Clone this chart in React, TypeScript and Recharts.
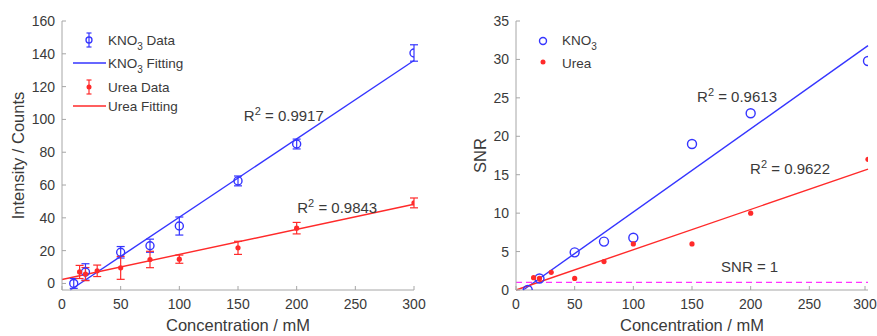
import React from 'react';
import {
  ComposedChart, XAxis, YAxis, Scatter, ErrorBar, ReferenceLine, ReferenceDot, Label, Legend,
} from 'recharts';

// ---- Data ----
const concKno3 = [10, 20, 50, 75, 100, 150, 200, 300];
const intensityKno3 = [0, 7, 19, 23, 35, 62.5, 85, 140.5];
const errKno3 = [3, 5, 3.5, 4, 5.5, 3, 3, 5];

const concUrea = [15, 20, 30, 50, 75, 100, 150, 200, 300];
const intensityUrea = [7, 5.7, 7.7, 9.5, 14.6, 14.8, 21.7, 33.7, 49.1];
const errUrea = [4, 4, 3.5, 7, 5, 2.5, 4, 3.5, 3];

const snrKno3 = [0, 1.5, 4.9, 6.3, 6.8, 19, 23, 29.8];
const snrConcUrea = [15, 20, 30, 50, 75, 100, 150, 200, 300];
const snrUrea = [1.6, 1.5, 2.3, 1.5, 3.7, 6, 6, 10, 17];

// linear fits (slope, intercept) and their x-ranges
const fitIntKno3 = { slope: 0.4777, intercept: -7.39, x0: 7.1, x1: 300 };
const fitIntUrea = { slope: 0.153, intercept: 2.4, x0: 0, x1: 300 };
const fitSnrKno3 = { slope: 0.1082, intercept: -0.67, x0: 6.2, x1: 300 };
const fitSnrUrea = { slope: 0.0524, intercept: 0, x0: 0, x1: 300 };

const xTicks = [0, 50, 100, 150, 200, 250, 300];
const yTicksInt = [0, 20, 40, 60, 80, 100, 120, 140, 160];
const yTicksSnr = [0, 5, 10, 15, 20, 25, 30, 35];

const r2Labels = { intKno3: '0.9917', intUrea: '0.9843', snrKno3: '0.9613', snrUrea: '0.9622' };

const intKno3Data = concKno3.map((x, i) => ({ x, y: intensityKno3[i], err: errKno3[i] }));
const intUreaData = concUrea.map((x, i) => ({ x, y: intensityUrea[i], err: errUrea[i] }));
const snrKno3Data = concKno3.map((x, i) => ({ x, y: snrKno3[i] }));
const snrUreaData = snrConcUrea.map((x, i) => ({ x, y: snrUrea[i] }));

const seg = (f: { slope: number; intercept: number; x0: number; x1: number }) => [
  { x: f.x0, y: f.slope * f.x0 + f.intercept },
  { x: f.x1, y: f.slope * f.x1 + f.intercept },
];

// ---- Styles ----
const FONT = 'Liberation Sans, Arial, sans-serif';
const BLUE = '#3535ff';
const RED = '#ff2a2a';
const MAGENTA = '#ff33ff';
const AXIS = '#a6a6a6';
const TEXT = '#3a3a3a';
const TICK_MARGIN = 9;

const XTick = (props: any) => {
  const { x, y, payload } = props;
  const axisY = y - TICK_MARGIN;
  return (
    <g>
      <line x1={x} x2={x} y1={axisY} y2={axisY - 4} stroke={AXIS} strokeWidth={1} />
      <text x={x} y={y} dy="0.71em" textAnchor="middle" fill={TEXT} fontSize={14} fontFamily={FONT}>
        {payload.value}
      </text>
    </g>
  );
};

const YTick = (props: any) => {
  const { x, y, payload } = props;
  const axisX = x + 7;
  return (
    <g>
      <line x1={axisX} x2={axisX + 4} y1={y} y2={y} stroke={AXIS} strokeWidth={1} />
      <text x={x} y={y} dy="0.36em" textAnchor="end" fill={TEXT} fontSize={14} fontFamily={FONT}>
        {payload.value}
      </text>
    </g>
  );
};

const R2Text = (value: string) => (props: any) => {
  const { viewBox } = props;
  const x = viewBox.x;
  const y = viewBox.y;
  return (
    <text x={x} y={y} dy="0.36em" fill={TEXT} fontSize={15} fontFamily={FONT}>
      <tspan>R</tspan>
      <tspan dy={-6} fontSize={11}>2</tspan>
      <tspan dy={6}>{' = ' + value}</tspan>
    </text>
  );
};

const PlainText = (value: string) => (props: any) => {
  const { viewBox } = props;
  return (
    <text x={viewBox.x} y={viewBox.y} dy="0.36em" fill={TEXT} fontSize={15} fontFamily={FONT}>
      {value}
    </text>
  );
};

const openCircle = (r: number) => (props: any) => (
  <circle cx={props.cx} cy={props.cy} r={r} fill="none" stroke={BLUE} strokeWidth={1.4} />
);
const dot = (r: number) => (props: any) => (
  <circle cx={props.cx} cy={props.cy} r={r} fill={RED} stroke="none" />
);

const XLabel = (props: any) => {
  const { viewBox } = props;
  return (
    <text x={viewBox.x + viewBox.width / 2} y={viewBox.y + 35} dy="0.36em" textAnchor="middle" fill={TEXT} fontSize={16.5} fontFamily={FONT}>
      Concentration / mM
    </text>
  );
};

const YLabel = (text: string, dx: number) => (props: any) => {
  const { viewBox } = props;
  const cx = viewBox.x + dx;
  const cy = viewBox.y + viewBox.height / 2;
  return (
    <text x={cx} y={cy} dy="0.36em" textAnchor="middle" fill={TEXT} fontSize={16.5} fontFamily={FONT} transform={`rotate(-90, ${cx}, ${cy})`}>
      {text}
    </text>
  );
};

const Sub3 = ({ rest }: { rest: string }) => (
  <>
    <tspan>KNO</tspan>
    <tspan dy={5} fontSize={10}>3</tspan>
    <tspan dy={-5}>{rest}</tspan>
  </>
);

const LeftLegend = () => (
  <svg width={140} height={120} style={{ overflow: 'visible' }}>
    <g fontFamily={FONT} fontSize={13.5} fill={TEXT}>
      {/* KNO3 Data */}
      <line x1={89} x2={89} y1={33} y2={47} stroke={BLUE} strokeWidth={1.2} />
      <line x1={86.5} x2={91.5} y1={33} y2={33} stroke={BLUE} strokeWidth={1.2} />
      <line x1={86.5} x2={91.5} y1={47} y2={47} stroke={BLUE} strokeWidth={1.2} />
      <circle cx={89} cy={40} r={3} fill="none" stroke={BLUE} strokeWidth={1.3} />
      <text x={108} y={40} dy="0.36em"><Sub3 rest=" Data" /></text>
      {/* KNO3 Fitting */}
      <line x1={73} x2={106} y1={63} y2={63} stroke={BLUE} strokeWidth={1.4} />
      <text x={108} y={63} dy="0.36em"><Sub3 rest=" Fitting" /></text>
      {/* Urea Data */}
      <line x1={89} x2={89} y1={80} y2={94} stroke={RED} strokeWidth={1.2} />
      <line x1={86.5} x2={91.5} y1={80} y2={80} stroke={RED} strokeWidth={1.2} />
      <line x1={86.5} x2={91.5} y1={94} y2={94} stroke={RED} strokeWidth={1.2} />
      <circle cx={89} cy={87} r={2.5} fill={RED} />
      <text x={108} y={87} dy="0.36em">Urea Data</text>
      {/* Urea Fitting */}
      <line x1={73} x2={106} y1={106} y2={106} stroke={RED} strokeWidth={1.4} />
      <text x={108} y={106} dy="0.36em">Urea Fitting</text>
    </g>
  </svg>
);

const RightLegend = () => (
  <svg width={170} height={80} style={{ overflow: 'visible' }}>
    <g fontFamily={FONT} fontSize={13.5} fill={TEXT}>
      <circle cx={106} cy={41} r={3.5} fill="none" stroke={BLUE} strokeWidth={1.4} />
      <text x={125} y={40} dy="0.36em"><Sub3 rest="" /></text>
      <circle cx={106} cy={62} r={2.5} fill={RED} />
      <text x={125} y={63} dy="0.36em">Urea</text>
    </g>
  </svg>
);

const legendWrap = { position: 'absolute' as const, left: 0, top: 0, width: 200, height: 120 };

export default function App() {
  return (
    <div style={{ position: 'absolute', left: 0, top: 0, width: 877, height: 336, background: '#fff', overflow: 'hidden' }}>
      <div style={{ position: 'absolute', left: 0, top: 0 }}>
        <ComposedChart width={440} height={336} margin={{ top: 21, right: 26, bottom: 0, left: 0 }}>
          <XAxis
            type="number" dataKey="x" domain={[0, 300]} ticks={xTicks} allowDataOverflow
            height={46} stroke={AXIS} tickLine={false} tickSize={0} tickMargin={TICK_MARGIN} tick={<XTick />}
          >
            <Label content={<XLabel />} />
          </XAxis>
          <YAxis
            type="number" dataKey="y" domain={[-4, 160]} ticks={yTicksInt} allowDataOverflow
            width={62} stroke={AXIS} tickLine={false} tickSize={0} tickMargin={7} tick={<YTick />}
          >
            <Label content={YLabel('Intensity / Counts', 18)} />
          </YAxis>
          <Legend layout="vertical" align="center" verticalAlign="middle" wrapperStyle={legendWrap} content={<LeftLegend />} />
          <ReferenceLine segment={seg(fitIntKno3)} stroke={BLUE} strokeWidth={1.4} ifOverflow="visible" />
          <ReferenceLine segment={seg(fitIntUrea)} stroke={RED} strokeWidth={1.4} ifOverflow="visible" />
          <Scatter data={intKno3Data} dataKey="y" shape={openCircle(4)} isAnimationActive={false} legendType="none">
            <ErrorBar dataKey="err" direction="y" width={4} stroke={BLUE} strokeWidth={1.2} />
          </Scatter>
          <Scatter data={intUreaData} dataKey="y" shape={dot(2.6)} isAnimationActive={false} legendType="none">
            <ErrorBar dataKey="err" direction="y" width={4} stroke={RED} strokeWidth={1.2} />
          </Scatter>
          <ReferenceDot x={155} y={102.6} r={0} fill="none" stroke="none" ifOverflow="visible" label={R2Text(r2Labels.intKno3)} />
          <ReferenceDot x={200.5} y={46.5} r={0} fill="none" stroke="none" ifOverflow="visible" label={R2Text(r2Labels.intUrea)} />
        </ComposedChart>
      </div>
      <div style={{ position: 'absolute', left: 437, top: 0 }}>
        <ComposedChart width={440} height={336} margin={{ top: 21, right: 9, bottom: 0, left: 0 }}>
          <XAxis
            type="number" dataKey="x" domain={[0, 300]} ticks={xTicks} allowDataOverflow
            height={46} stroke={AXIS} tickLine={false} tickSize={0} tickMargin={TICK_MARGIN} tick={<XTick />}
          >
            <Label content={<XLabel />} />
          </XAxis>
          <YAxis
            type="number" dataKey="y" domain={[0, 35]} ticks={yTicksSnr} allowDataOverflow
            width={79} stroke={AXIS} tickLine={false} tickSize={0} tickMargin={7} tick={<YTick />}
          >
            <Label content={YLabel('SNR', 43)} />
          </YAxis>
          <Legend layout="vertical" align="center" verticalAlign="middle" wrapperStyle={legendWrap} content={<RightLegend />} />
          <ReferenceLine y={1} stroke={MAGENTA} strokeWidth={1.3} strokeDasharray="6 4" ifOverflow="visible" />
          <ReferenceLine segment={seg(fitSnrKno3)} stroke={BLUE} strokeWidth={1.4} ifOverflow="visible" />
          <ReferenceLine segment={seg(fitSnrUrea)} stroke={RED} strokeWidth={1.4} ifOverflow="visible" />
          <Scatter data={snrKno3Data} dataKey="y" shape={openCircle(4.5)} isAnimationActive={false} legendType="none" />
          <Scatter data={snrUreaData} dataKey="y" shape={dot(2.6)} isAnimationActive={false} legendType="none" />
          <ReferenceDot x={154.3} y={25.1} r={0} fill="none" stroke="none" ifOverflow="visible" label={R2Text(r2Labels.snrKno3)} />
          <ReferenceDot x={199.5} y={15.85} r={0} fill="none" stroke="none" ifOverflow="visible" label={R2Text(r2Labels.snrUrea)} />
          <ReferenceDot x={174.8} y={3.03} r={0} fill="none" stroke="none" ifOverflow="visible" label={PlainText('SNR = 1')} />
        </ComposedChart>
      </div>
    </div>
  );
}
